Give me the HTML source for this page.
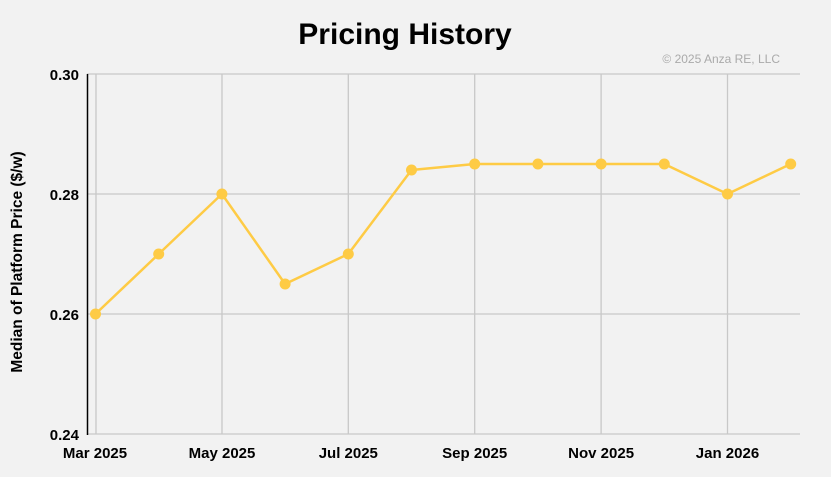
<!DOCTYPE html>
<html><head><meta charset="utf-8"><style>
html,body{margin:0;padding:0;background:#f2f2f2;}
svg{display:block;font-family:"Liberation Sans",Arial,sans-serif;}
</style></head><body>
<svg width="831" height="477" viewBox="0 0 831 477" xmlns="http://www.w3.org/2000/svg">
<rect width="831" height="477" fill="#f2f2f2"/>
<text x="405" y="44" text-anchor="middle" font-size="30" font-weight="bold" fill="#000">Pricing History</text>
<text x="780" y="63" text-anchor="end" font-size="12" fill="#aaa">© 2025 Anza RE, LLC</text>
<g stroke="#c8c8c8" stroke-width="1.3">
<line x1="87" y1="74" x2="800" y2="74"/>
<line x1="87" y1="194" x2="800" y2="194"/>
<line x1="87" y1="314" x2="800" y2="314"/>
<line x1="87" y1="434" x2="800" y2="434"/>
<line x1="96" y1="74" x2="96" y2="434"/>
<line x1="222" y1="74" x2="222" y2="434"/>
<line x1="348.3" y1="74" x2="348.3" y2="434"/>
<line x1="474.7" y1="74" x2="474.7" y2="434"/>
<line x1="601.1" y1="74" x2="601.1" y2="434"/>
<line x1="727.5" y1="74" x2="727.5" y2="434"/>
</g>
<line x1="87.5" y1="74" x2="87.5" y2="435" stroke="#000" stroke-width="1.5"/>
<g font-size="15" font-weight="bold" fill="#000" text-anchor="end">
<text x="79" y="80">0.30</text>
<text x="79" y="200">0.28</text>
<text x="79" y="320">0.26</text>
<text x="79" y="440">0.24</text>
</g>
<g font-size="15" font-weight="bold" fill="#000" text-anchor="middle">
<text x="95" y="458">Mar 2025</text>
<text x="222" y="458">May 2025</text>
<text x="348.3" y="458">Jul 2025</text>
<text x="474.7" y="458">Sep 2025</text>
<text x="601.1" y="458">Nov 2025</text>
<text x="727.5" y="458">Jan 2026</text>
</g>
<text transform="translate(22,262) rotate(-90)" text-anchor="middle" font-size="15.5" font-weight="bold" fill="#000">Median of Platform Price ($/w)</text>
<polyline fill="none" stroke="#fecb45" stroke-width="2.5" stroke-linejoin="round" points="95.5,314 158.7,254 221.9,194 285.1,284 348.3,254 411.5,170 474.7,164 537.9,164 601.1,164 664.3,164 727.5,194 790.7,164"/>
<g fill="#fecb45">
<circle cx="95.5" cy="314" r="5.5"/><circle cx="158.7" cy="254" r="5.5"/><circle cx="221.9" cy="194" r="5.5"/><circle cx="285.1" cy="284" r="5.5"/><circle cx="348.3" cy="254" r="5.5"/><circle cx="411.5" cy="170" r="5.5"/><circle cx="474.7" cy="164" r="5.5"/><circle cx="537.9" cy="164" r="5.5"/><circle cx="601.1" cy="164" r="5.5"/><circle cx="664.3" cy="164" r="5.5"/><circle cx="727.5" cy="194" r="5.5"/><circle cx="790.7" cy="164" r="5.5"/>
</g>
</svg>
</body></html>
